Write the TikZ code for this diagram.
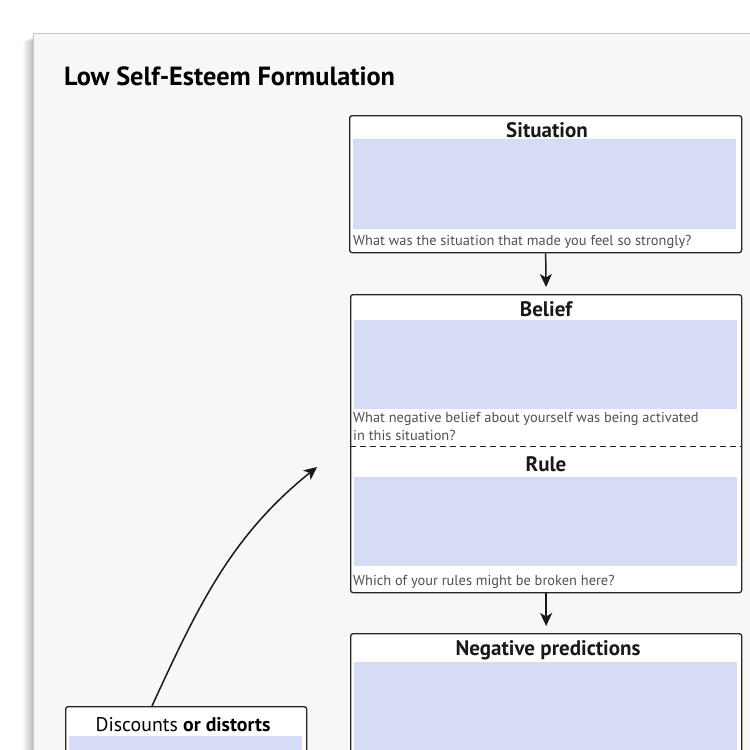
\documentclass[tikz,border=0pt]{standalone}
\usepackage{fontspec}
\setmainfont{PT Sans}
\usetikzlibrary{arrows.meta}
\definecolor{fillblue}{HTML}{D6DCF6}
\definecolor{pagebg}{HTML}{F7F7F7}
\definecolor{qgray}{HTML}{505050}
\tikzset{
  outerbox/.style={draw=black!85, line width=1.3pt, rounded corners=2.5pt, fill=white, anchor=north west, inner sep=0pt},
  bluebox/.style={fill=fillblue, draw=none, anchor=north west, inner sep=0pt},
  boxtitle/.style={font=\bfseries\fontsize{21}{25}\selectfont, text=black!90, inner sep=0pt},
  question/.style={font=\fontsize{14.4}{18}\selectfont, text=qgray, inner sep=0pt, anchor=base west, align=left},
  arr/.style={-{Stealth[length=13pt,width=12pt,inset=3.5pt]}, line width=1.5pt, black!90},
}
\begin{document}
\begin{tikzpicture}[x=1pt,y=-1pt]
\useasboundingbox (0,0) rectangle (750,750);
\clip (0,0) rectangle (750,750);
\fill[white] (0,0) rectangle (750,750);
% page shadow
\foreach \i in {1,...,10} \fill[black,opacity=0.025] (33-\i,36+\i*0.5) rectangle (760,760);
\fill[pagebg] (33,33) rectangle (760,760);
\draw[black!22, line width=0.8pt] (33,760) -- (33,33) -- (760,33);

\node[anchor=base west, font=\bfseries\fontsize{26.3}{30}\selectfont, inner sep=0pt] (title) at (64,85) {Low Self-Esteem Formulation};

% Situation
\node[outerbox, minimum width=392pt, minimum height=137pt] (sit) at (349,115) {};
\node[bluebox, minimum width=383pt, minimum height=90pt] (sitfill) at (353,139) {};
\node[boxtitle] (sitt) at (547,130) {Situation};
\node[question] (sitq) at (353,245) {What was the situation that made you feel so strongly?};

% Belief / Rule
\node[outerbox, minimum width=391pt, minimum height=298pt] (bel) at (350,294) {};
\node[bluebox, minimum width=383pt, minimum height=89pt] (belfill) at (354,320) {};
\node[boxtitle] (belt) at (546,309) {Belief};
\node[question] (belq) at (353,440) {What negative belief about yourself was being activated\\in this situation?};
\coordinate (dl) at (350,446);
\coordinate (dr) at (741,446);
\draw[dashed, dash pattern=on 6pt off 4pt, line width=1pt, black!85] (dl) -- (dr);
\node[boxtitle] (rulet) at (546,464) {Rule};
\node[bluebox, minimum width=383pt, minimum height=89pt] (rulefill) at (354,477) {};
\node[question] (ruleq) at (353,585) {Which of your rules might be broken here?};

% Negative predictions
\node[outerbox, minimum width=391pt, minimum height=200pt] (neg) at (350,633) {};
\node[bluebox, minimum width=383pt, minimum height=120pt] (negfill) at (354,662) {};
\node[boxtitle] (negt) at (548,650) {Negative predictions};

% Discounts or distorts
\node[outerbox, minimum width=241pt, minimum height=100pt] (disc) at (65,706) {};
\node[bluebox, minimum width=233pt, minimum height=60pt] (discfill) at (69,736) {};
\node[font=\fontsize{19.8}{23}\selectfont, inner sep=0pt] (disct) at (183,725) {Discounts \textbf{or distorts}};

% connectors
\draw[arr, shorten >=7pt] (sit.south) -- (bel.north);
\draw[arr, shorten >=7pt] (bel.south) -- (neg.north);
\coordinate (cstart) at (152,706);
\coordinate (ctip) at (317,467);
\draw[arr] (cstart) .. controls (198,606) and (231,536) .. (ctip);
\end{tikzpicture}
\end{document}
